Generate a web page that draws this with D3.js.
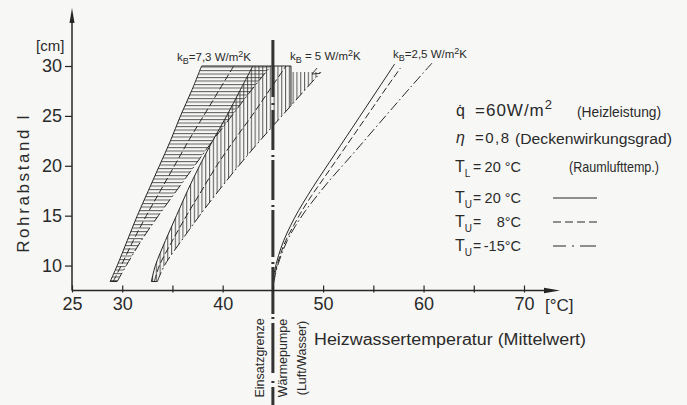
<!DOCTYPE html>
<html><head><meta charset="utf-8">
<script src="https://cdn.jsdelivr.net/npm/d3@7"></script>
<style>
html,body{margin:0;padding:0;background:#f7f7f5;}
svg{display:block;}
text{font-family:"Liberation Sans",Arial,sans-serif;fill:#2a2a2a;}
</style></head><body>
<svg id="chart" width="687" height="405"></svg>
<script>
// ---------------- data ----------------
const xTickValues = [25,30,35,40,45,50,55,60,65,70];
const xTickLabels = ["25","30","","40","","50","","60","","70"];
const yTickValues = [10,15,20,25,30];
const yTickLabels = ["10","15","20","25","30"];
const limitTemp = 45;            // Einsatzgrenze Wärmepumpe
const topDist = 30;              // upper end of hatched fields
const g2TopEdge = 46.8;          // right end of top edge of kB=5 field

// [Heizwassertemperatur °C, Rohrabstand cm]
// kB = 7,3 W/m²K
const g1Tu20  = [[28.8,8.4],[29.5,10],[30.5,12.5],[31.5,15],[32.6,17.5],[33.7,20],[34.8,22.5],[35.8,25],[36.9,27.5],[37.9,30]];
const g1Tu8   = [[29.1,8.4],[29.9,10],[31.1,12.5],[32.4,15],[33.8,17.5],[35.2,20],[36.6,22.5],[38.1,25],[39.6,27.5],[41.1,30]];
const g1Tum15 = [[29.5,8.4],[30.4,10],[31.9,12.5],[33.6,15],[35.4,17.5],[37.2,20],[39.0,22.5],[40.9,25],[42.8,27.5],[44.8,30]];
// kB = 5 W/m²K
const g2Tu20  = [[32.9,8.4],[33.3,10],[34.3,12.5],[35.4,15],[36.5,17.5],[37.7,20],[39.0,22.5],[40.4,25],[41.7,27.5],[43.0,30]];
const g2Tu8   = [[33.2,8.4],[33.7,10],[35.0,12.5],[36.4,15],[37.9,17.5],[39.4,20],[41.1,22.5],[42.9,25],[44.6,27.5],[46.3,30]];
const g2Tum15 = [[33.5,8.4],[34.2,10],[35.9,12.5],[37.7,15],[39.6,17.5],[41.6,20],[43.7,22.5],[45.9,25],[48.1,27.5],[49.8,29.4]];
// kB = 2,5 W/m²K
const g3Tu20  = [[45.0,8.3],[45.18,9.5],[45.56,11],[46.08,12.5],[46.76,14],[47.55,15.5],[48.45,17],[49.53,18.7],[50.59,20.3],[51.71,22],[52.9,23.8],[54.22,25.8],[55.54,27.8],[57.12,30.2]];
const g3Tu8   = [[45.0,8.3],[45.28,9.5],[45.71,11],[46.28,12.5],[47.06,14],[47.9,15.5],[48.85,17],[50.03,18.7],[51.14,20.3],[52.31,22],[53.55,23.8],[54.92,25.8],[56.29,27.8],[57.7,29.8]];
const g3Tum15 = [[45.1,8.3],[45.33,9.5],[45.81,11],[46.43,12.5],[47.26,14],[48.25,15.5],[49.4,17],[50.78,18.7],[52.19,20.3],[53.66,22],[55.2,23.8],[56.92,25.8],[58.64,27.8],[60.85,30.3]];

// ---------------- styles ----------------
const INK = "#262626";
const DASH = "7 3";
const DASHDOT = "10 3 1.6 3";
const LIMIT_DASH = "57 6 2 5 40 5 2 3 40 5 2 3 47 5 2 3 47 3 2 4 50 8 2 4 40";

const svg = d3.select("#chart");
const x = d3.scaleLinear().domain([25,70]).range([72,524]);
const y = d3.scaleLinear().domain([7.5,30]).range([290.5,66]);
const line = d3.line().x(d=>x(d[0])).y(d=>y(d[1])).curve(d3.curveCatmullRom.alpha(0.5));

// hatch patterns
const defs = svg.append("defs");
defs.append("pattern").attr("id","hH").attr("patternUnits","userSpaceOnUse")
  .attr("width",8).attr("height",3.5)
  .append("path").attr("d","M0,0.6H8").attr("stroke",INK).attr("stroke-width",0.8);
defs.append("pattern").attr("id","hV").attr("patternUnits","userSpaceOnUse")
  .attr("width",3.8).attr("height",8)
  .append("path").attr("d","M0.6,0V8").attr("stroke",INK).attr("stroke-width",0.8);

function region(left, right, mid){
  const a = line(left);
  const midPart = mid ? mid.map(p=>"L"+x(p[0])+","+y(p[1])).join("") : "";
  const b = line(right.slice().reverse()).replace(/^M/,"L");
  return a + midPart + b + "Z";
}

// fields
svg.append("path").attr("d", region(g1Tu20, g1Tum15)).attr("fill","url(#hH)").attr("stroke","none");
svg.append("path").attr("d", region(g2Tu20, g2Tum15, [[g2TopEdge,topDist],[g2TopEdge,29.4]]))
  .attr("fill","url(#hV)").attr("stroke","none");

// curves
const curves = [
  [g1Tu20,null],[g1Tu8,DASH],[g1Tum15,DASHDOT],
  [g2Tu20,null],[g2Tu8,DASH],[g2Tum15,DASHDOT],
  [g3Tu20,null],[g3Tu8,DASH],[g3Tum15,DASHDOT]
];
svg.append("g").selectAll("path").data(curves).join("path")
  .attr("d",d=>line(d[0])).attr("fill","none").attr("stroke",INK)
  .attr("stroke-width",1).attr("stroke-dasharray",d=>d[1]);

// top edge and right edge of hatched fields
svg.append("line").attr("x1",x(g1Tu20[g1Tu20.length-1][0])).attr("x2",x(g2TopEdge))
  .attr("y1",y(topDist)).attr("y2",y(topDist)).attr("stroke",INK).attr("stroke-width",1);
svg.append("line").attr("x1",x(g2TopEdge)).attr("x2",x(g2TopEdge))
  .attr("y1",y(topDist)).attr("y2",y(26.0)).attr("stroke",INK).attr("stroke-width",1);
// bottom edges
[[g1Tu20,g1Tum15],[g2Tu20,g2Tum15]].forEach(([a,b])=>{
  svg.append("line").attr("x1",x(a[0][0])).attr("x2",x(b[0][0])).attr("y1",y(a[0][1])).attr("y2",y(b[0][1]))
    .attr("stroke",INK).attr("stroke-width",1);
});
// small pointer of the kB=5 label
svg.append("path").attr("d",`M${x(49.4)},${y(29.8)}L${x(48.9)},${y(29.2)}L${x(49.6)},${y(29.25)}`)
  .attr("fill","none").attr("stroke",INK).attr("stroke-width",0.9);

// limit line (Einsatzgrenze)
svg.append("line").attr("x1",x(limitTemp)).attr("x2",x(limitTemp)).attr("y1",40).attr("y2",405)
  .attr("stroke","#333").attr("stroke-width",3).attr("stroke-dasharray",LIMIT_DASH);

// axes
const xAxis = d3.axisBottom(x).tickValues(xTickValues).tickFormat((d,i)=>xTickLabels[i])
  .tickSizeInner(-6).tickSizeOuter(0).tickPadding(7);
const gx = svg.append("g").attr("transform","translate(0,290.5)").call(xAxis);
gx.select(".domain").remove();
gx.selectAll(".tick line").attr("y1",2).attr("y2",-5).attr("stroke",INK).attr("stroke-width",1.2);
gx.selectAll(".tick text").attr("font-size",18).attr("fill","#2a2a2a");

const yAxis = d3.axisLeft(y).tickValues(yTickValues).tickFormat((d,i)=>yTickLabels[i])
  .tickSizeInner(7).tickSizeOuter(0).tickPadding(3);
const gy = svg.append("g").attr("transform","translate(72,0)").call(yAxis);
gy.select(".domain").remove();
gy.selectAll(".tick line").attr("stroke",INK).attr("stroke-width",1.2);
gy.selectAll(".tick text").attr("font-size",18).attr("fill","#2a2a2a");
gx.attr("font-family",null); gy.attr("font-family",null);

svg.append("line").attr("x1",72).attr("x2",552).attr("y1",290.5).attr("y2",290.5).attr("stroke",INK).attr("stroke-width",1.5);
svg.append("path").attr("d","M560,290.5L544,287.8L544,293.2Z").attr("fill",INK);
svg.append("line").attr("x1",72).attr("x2",72).attr("y1",290.5).attr("y2",16).attr("stroke",INK).attr("stroke-width",1.5);
svg.append("path").attr("d","M72,8L69.5,23L74.5,23Z").attr("fill",INK);

// axis titles
svg.append("text").attr("x",36).attr("y",51).attr("font-size",15).text("[cm]");
svg.append("text").attr("x",545).attr("y",311).attr("font-size",17).text("[°C]");
svg.append("text").attr("transform","translate(29,183) rotate(-90)").attr("text-anchor","middle")
  .attr("font-size",17).attr("letter-spacing",2.6).text("Rohrabstand l");
svg.append("text").attr("x",314).attr("y",345).attr("font-size",16)
  .attr("textLength",272).attr("lengthAdjust","spacingAndGlyphs").text("Heizwassertemperatur (Mittelwert)");

// rotated labels of the limit line
[["Einsatzgrenze",264],["Wärmepumpe",287],["(Luft/Wasser)",306]].forEach(([t,bx])=>{
  svg.append("text").attr("transform",`translate(${bx},358) rotate(-90)`).attr("text-anchor","middle")
    .attr("font-size",12.5).text(t);
});

// kB labels
function kLabel(xp, yp, val, sp){
  const t = svg.append("text").attr("x",xp).attr("y",yp).attr("font-size",11.5);
  t.append("tspan").text("k");
  t.append("tspan").attr("font-size",9).attr("dy",3).text("B");
  t.append("tspan").attr("dy",-3).text(sp ? " = " + val + " W/m" : "=" + val + " W/m");
  t.append("tspan").attr("font-size",9).attr("dy",-4).text("2");
  t.append("tspan").attr("dy",4).text("K");
}
kLabel(177,61,"7,3",false);
kLabel(290,60,"5",true);
kLabel(393,58,"2,5",false);

// parameter block
function T(xp, yp, s, size, opts){
  const t = svg.append("text").attr("x",xp).attr("y",yp).attr("font-size",size).text(s);
  if(opts && opts.len) t.attr("textLength",opts.len).attr("lengthAdjust",opts.adj||"spacing");
  if(opts && opts.anchor) t.attr("text-anchor",opts.anchor);
  return t;
}
function symSub(xp, yp, main, sub){
  const t = svg.append("text").attr("x",xp).attr("y",yp).attr("font-size",16);
  t.append("tspan").text(main);
  t.append("tspan").attr("font-size",10).attr("dy",5).text(sub);
}
T(456,116,"q̇",16);
const q = svg.append("text").attr("x",475).attr("y",116).attr("font-size",17);
q.append("tspan").attr("letter-spacing",1).text("=60W/m");
q.append("tspan").attr("font-size",13).attr("dy",-7).text("2");
T(577,117,"(Heizleistung)",14,{len:84,adj:"spacingAndGlyphs"});
T(456,143,"η",16).attr("font-style","italic");
T(475,143,"=0,8",15,{len:34});
T(515,144,"(Deckenwirkungsgrad)",15.5,{len:157,adj:"spacingAndGlyphs"});
symSub(455,172,"T","L");
T(473,172,"=",14);
T(521,172,"20 °C",14.5,{anchor:"end"});
T(569,172,"(Raumlufttemp.)",14.5,{len:90,adj:"spacingAndGlyphs"});

const legendRows = [["20 °C",203],["8°C",227],["-15°C",251]];
const LEG_DASH = [null, "8 4", "13 6 2 6 16"];
legendRows.forEach((r,i)=>{
  symSub(455,r[1],"T","U");
  T(473,r[1],"=",14);
  T(521,r[1],r[0],14.5,{anchor:"end"});
  svg.append("line").attr("x1",553).attr("x2",597).attr("y1",r[1]-5).attr("y2",r[1]-5)
    .attr("stroke",INK).attr("stroke-width",1).attr("stroke-dasharray",LEG_DASH[i]);
});
</script>
</body></html>
